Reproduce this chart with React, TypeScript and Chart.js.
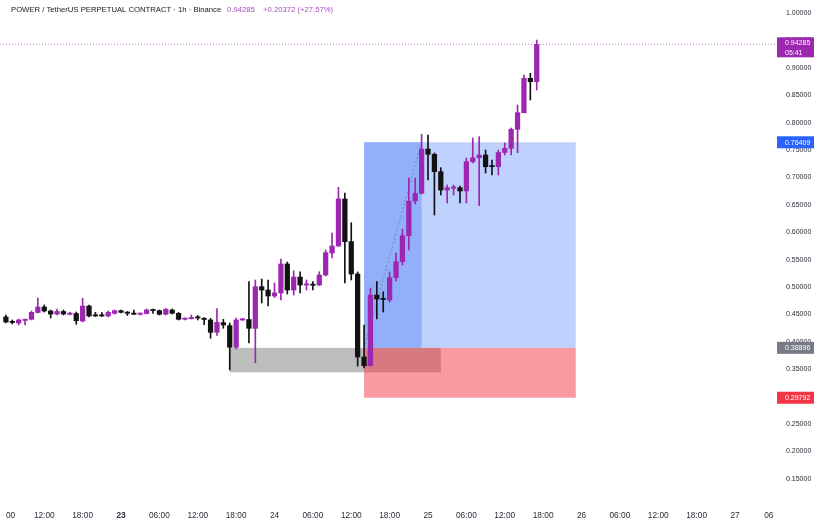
import React, { useEffect, useRef } from 'react';
import { Chart, registerables } from 'chart.js';

Chart.register(...registerables);

const FONT = '"Liberation Sans", Arial, sans-serif';
const PURPLE = '#9c27b0';
const BLACK = '#121212';

// hours relative to 23 00:00
const hours = [
  -18, -17, -16, -15, -14, -13, -12, -11, -10, -9, -8, -7, -6, -5, -4, -3, -2, -1,
  0, 1, 2, 3, 4, 5, 6, 7, 8, 9, 10, 11, 12, 13, 14, 15, 16, 17, 18, 19, 20, 21, 22, 23,
  24, 25, 26, 27, 28, 29, 30, 31, 32, 33, 34, 35, 36, 37, 38, 39, 40, 41, 42, 43, 44, 45, 46, 47,
  48, 49, 50, 51, 52, 53, 54, 55, 56, 57, 58, 59, 60, 61, 62, 63, 64, 65,
];

const opens = [
  0.4453, 0.4361, 0.4343, 0.4389, 0.4411, 0.4535, 0.4635, 0.4562, 0.4507, 0.4553, 0.4502, 0.4516, 0.4380, 0.4653, 0.4489, 0.4489, 0.4471, 0.4520,
  0.4568, 0.4535, 0.4520, 0.4502, 0.4516, 0.4589, 0.4568, 0.4502, 0.4580, 0.4520, 0.4411, 0.4421, 0.4443, 0.4429, 0.4398, 0.4173, 0.4349, 0.4294, 0.3900, 0.4398, 0.4407, 0.4246, 0.5005, 0.4945,
  0.4836, 0.4891, 0.5420, 0.4945, 0.5182, 0.5036, 0.5049, 0.5036, 0.5219, 0.5620, 0.5748, 0.6606, 0.5827, 0.5237, 0.3723, 0.3564, 0.4854, 0.4790, 0.4763, 0.5170, 0.5462, 0.5936, 0.6569, 0.6710,
  0.7518, 0.7422, 0.7104, 0.6770, 0.6803, 0.6812, 0.6752, 0.7286, 0.7359, 0.7409, 0.7213, 0.7195, 0.7454, 0.7531, 0.7878, 0.8181, 0.8808, 0.8746,
];

const closes = [
  0.4361, 0.4352, 0.4398, 0.4411, 0.4538, 0.4635, 0.4562, 0.4507, 0.4553, 0.4507, 0.4516, 0.4385, 0.4653, 0.4471, 0.4471, 0.4471, 0.4538, 0.4568,
  0.4538, 0.4520, 0.4502, 0.4516, 0.4580, 0.4568, 0.4502, 0.4593, 0.4520, 0.4411, 0.4429, 0.4429, 0.4434, 0.4407, 0.4173, 0.4356, 0.4307, 0.3900, 0.4398, 0.4407, 0.4246, 0.5005, 0.4945, 0.4836,
  0.4891, 0.5420, 0.4945, 0.5182, 0.5036, 0.5049, 0.5031, 0.5219, 0.5626, 0.5748, 0.6606, 0.5827, 0.5237, 0.3723, 0.3564, 0.4854, 0.4781, 0.4772, 0.5170, 0.5462, 0.5936, 0.6569, 0.6710, 0.7518,
  0.7422, 0.7104, 0.6770, 0.6812, 0.6816, 0.6752, 0.7286, 0.7359, 0.7409, 0.7195, 0.7195, 0.7454, 0.7531, 0.7878, 0.8181, 0.8808, 0.8746, 0.94285,
];

const highs = [
  0.4489, 0.4398, 0.4416, 0.4416, 0.4562, 0.4799, 0.4672, 0.4580, 0.4599, 0.4580, 0.4544, 0.4544, 0.4794, 0.4672, 0.4538, 0.4535, 0.4562, 0.4580,
  0.4580, 0.4553, 0.4580, 0.4526, 0.4599, 0.4599, 0.4580, 0.4608, 0.4599, 0.4535, 0.4434, 0.4489, 0.4480, 0.4443, 0.4429, 0.4608, 0.4411, 0.4343, 0.4434, 0.4425, 0.5097, 0.5128, 0.5146, 0.5128,
  0.5073, 0.5511, 0.5456, 0.5297, 0.5279, 0.5128, 0.5097, 0.5279, 0.5675, 0.5985, 0.6819, 0.6715, 0.6173, 0.5274, 0.4307, 0.4982, 0.5097, 0.4914, 0.5274, 0.5620, 0.6058, 0.6989, 0.6989, 0.7787,
  0.7774, 0.7445, 0.7177, 0.6861, 0.6861, 0.6843, 0.7354, 0.7719, 0.7743, 0.7500, 0.7318, 0.7500, 0.7628, 0.7901, 0.8321, 0.8869, 0.8899, 0.9507,
];

const lows = [
  0.4343, 0.4325, 0.4307, 0.4307, 0.4398, 0.4526, 0.4544, 0.4434, 0.4489, 0.4489, 0.4489, 0.4319, 0.4361, 0.4453, 0.4462, 0.4462, 0.4453, 0.4507,
  0.4526, 0.4480, 0.4498, 0.4489, 0.4507, 0.4516, 0.4489, 0.4489, 0.4507, 0.4398, 0.4398, 0.4416, 0.4398, 0.4312, 0.4064, 0.4115, 0.4246, 0.3485, 0.3869, 0.4389, 0.3978, 0.3619, 0.4708, 0.4653,
  0.4808, 0.4763, 0.4872, 0.4854, 0.4891, 0.4945, 0.4945, 0.5027, 0.5201, 0.5529, 0.5739, 0.5073, 0.5128, 0.3558, 0.3522, 0.3558, 0.4416, 0.4544, 0.4726, 0.5109, 0.5401, 0.5675, 0.6515, 0.6697,
  0.6953, 0.6314, 0.6679, 0.6533, 0.6679, 0.6533, 0.6533, 0.7263, 0.6484, 0.7080, 0.7044, 0.7044, 0.7409, 0.7409, 0.7451, 0.8175, 0.8412, 0.8595,
];

const xTickHours = [-18, -12, -6, 0, 6, 12, 18, 24, 30, 36, 42, 48, 54, 60, 66, 72, 78, 84, 90, 96, 102];
const xTickLabels = ['00', '12:00', '18:00', '23', '06:00', '12:00', '18:00', '24', '06:00', '12:00', '18:00', '25', '06:00', '12:00', '18:00', '26', '06:00', '12:00', '18:00', '27', '06'];
const yTicks = [0.15, 0.2, 0.25, 0.3, 0.35, 0.4, 0.45, 0.5, 0.55, 0.6, 0.65, 0.7, 0.75, 0.8, 0.85, 0.9, 0.95, 1.0];

const xMin = -18.92;
const xMax = 102.41;
const yMin = 0.10036;
const yMax = 1.02372;

const lastPrice = 0.94285;
const countdown = '05:41';
const targetPrice = 0.76409;
const entryPrice = 0.38896;
const stopPrice = 0.29792;
const positionStart = 38;
const positionEnd = 71.1;
const targetHitHour = 47;
const grayBoxStart = 17;
const grayBoxEnd = 50;
const grayBoxLow = 0.3443;

const titleText = 'POWER / TetherUS PERPETUAL CONTRACT · 1h · Binance';
const titlePrice = '0.94285';
const titleChange = '+0.20372 (+27.57%)';

const candleColors = hours.map((_, i) => (closes[i] >= opens[i] ? PURPLE : BLACK));

const zonesPlugin = {
  id: 'zones',
  beforeDatasetsDraw(chart: any) {
    const { ctx, chartArea, scales } = chart;
    const x = scales.x;
    const y = scales.y;
    ctx.save();
    ctx.beginPath();
    ctx.rect(chartArea.left, chartArea.top, chartArea.width, chartArea.height);
    ctx.clip();
    const rect = (x0: number, x1: number, v0: number, v1: number, color: string) => {
      const px0 = x.getPixelForValue(x0);
      const px1 = x.getPixelForValue(x1);
      const py0 = y.getPixelForValue(v0);
      const py1 = y.getPixelForValue(v1);
      ctx.fillStyle = color;
      ctx.fillRect(Math.min(px0, px1), Math.min(py0, py1), Math.abs(px1 - px0), Math.abs(py1 - py0));
    };
    rect(positionStart, positionEnd, entryPrice, targetPrice, '#bfd1fd');
    rect(positionStart, targetHitHour, entryPrice, targetPrice, '#92affa');
    rect(grayBoxStart, grayBoxEnd, grayBoxLow, entryPrice, '#bdbdbd');
    rect(positionStart, positionEnd, stopPrice, entryPrice, 'rgba(242,54,69,0.5)');
    ctx.restore();
  },
  afterDraw(chart: any) {
    const { ctx, chartArea, scales } = chart;
    const y = scales.y;
    ctx.save();
    const boxLeft = chartArea.right + 1;
    const boxW = 37;
    const drawLabel = (value: number, lines: string[], color: string) => {
      const py = y.getPixelForValue(value);
      ctx.fillStyle = color;
      ctx.font = `7px ${FONT}`;
      ctx.textBaseline = 'middle';
      ctx.textAlign = 'left';
      if (lines.length === 1) {
        ctx.fillRect(boxLeft, py - 6, boxW, 12);
        ctx.fillStyle = '#ffffff';
        ctx.fillText(lines[0], boxLeft + 8, py + 0.5);
      } else {
        ctx.fillRect(boxLeft, py - 7, boxW, 20);
        ctx.fillStyle = '#ffffff';
        ctx.fillText(lines[0], boxLeft + 8, py - 1.5);
        ctx.fillText(lines[1], boxLeft + 8, py + 8.5);
      }
    };
    drawLabel(lastPrice, [lastPrice.toFixed(5), countdown], PURPLE);
    drawLabel(targetPrice, [targetPrice.toFixed(5)], '#2962ff');
    drawLabel(entryPrice, [entryPrice.toFixed(5)], '#787b86');
    drawLabel(stopPrice, [stopPrice.toFixed(5)], '#f23645');

    ctx.font = `7.7px ${FONT}`;
    ctx.textBaseline = 'middle';
    ctx.textAlign = 'left';
    ctx.fillStyle = '#131722';
    ctx.fillText(titleText, 11, 10);
    ctx.fillStyle = '#a450bd';
    ctx.fillText(titlePrice, 227, 10);
    ctx.fillText(titleChange, 263, 10);
    ctx.restore();
  },
};

function CandleChart() {
  const ref = useRef<HTMLCanvasElement | null>(null);
  useEffect(() => {
    if (!ref.current) return;
    const chart = new Chart(ref.current, {
      type: 'bar',
      data: {
        datasets: [
          {
            label: 'bodies',
            data: hours.map((h, i) => ({ x: h, y: [opens[i], closes[i]] })) as any,
            backgroundColor: candleColors,
            borderWidth: 0,
            barThickness: 4.6,
            minBarLength: 1.2,
            grouped: false,
          } as any,
          {
            label: 'wicks',
            data: hours.map((h, i) => ({ x: h, y: [lows[i], highs[i]] })) as any,
            backgroundColor: candleColors,
            borderWidth: 0,
            barThickness: 1,
            grouped: false,
          } as any,
          {
            type: 'line',
            label: 'entry-target',
            data: [
              { x: positionStart, y: entryPrice },
              { x: targetHitHour, y: targetPrice },
            ],
            borderColor: 'rgba(90,100,140,0.55)',
            borderWidth: 1,
            borderDash: [2, 2],
            pointRadius: 0,
          } as any,
          {
            type: 'line',
            label: 'last price',
            data: [
              { x: xMin, y: lastPrice },
              { x: xMax, y: lastPrice },
            ],
            borderColor: 'rgba(156,39,176,0.6)',
            borderWidth: 1,
            borderDash: [1, 2],
            pointRadius: 0,
          } as any,
        ],
      },
      options: {
        responsive: false,
        animation: false,
        devicePixelRatio: 1,
        layout: { padding: 0 },
        plugins: { legend: { display: false }, tooltip: { enabled: false }, title: { display: false } },
        scales: {
          x: {
            type: 'linear',
            min: xMin,
            max: xMax,
            offset: false,
            grid: { display: false, drawTicks: false },
            border: { display: false },
            afterBuildTicks: (s: any) => {
              s.ticks = xTickHours.map((v) => ({ value: v }));
            },
            afterFit: (s: any) => {
              s.height = 23;
            },
            ticks: {
              autoSkip: false,
              maxRotation: 0,
              minRotation: 0,
              align: 'inner',
              padding: 5,
              color: '#2a2e39',
              font: (ctx: any) => ({
                family: FONT,
                size: 8.3,
                weight: xTickLabels[ctx.index] === '23' ? 'bold' : 'normal',
              }),
              callback: (_v: any, i: number) => xTickLabels[i],
            },
          },
          y: {
            type: 'linear',
            position: 'right',
            min: yMin,
            max: yMax,
            grid: { display: false, drawTicks: true, tickLength: 10, color: 'rgba(0,0,0,0)' },
            border: { display: false },
            afterBuildTicks: (s: any) => {
              s.ticks = yTicks.map((v) => ({ value: v }));
            },
            afterFit: (s: any) => {
              s.width = 53;
            },
            ticks: {
              autoSkip: false,
              padding: 0,
              color: '#2a2e39',
              font: { family: FONT, size: 7, lineHeight: 0 },
              callback: (v: any) => Number(v).toFixed(5),
            },
          },
        },
      } as any,
      plugins: [zonesPlugin],
    });
    return () => chart.destroy();
  }, []);
  return <canvas ref={ref} width={829} height={529} style={{ display: 'block', width: 829, height: 529 }} />;
}

export default function App() {
  return (
    <div style={{ position: 'fixed', left: 0, top: 0, width: 829, height: 529, background: '#ffffff' }}>
      <CandleChart />
    </div>
  );
}
